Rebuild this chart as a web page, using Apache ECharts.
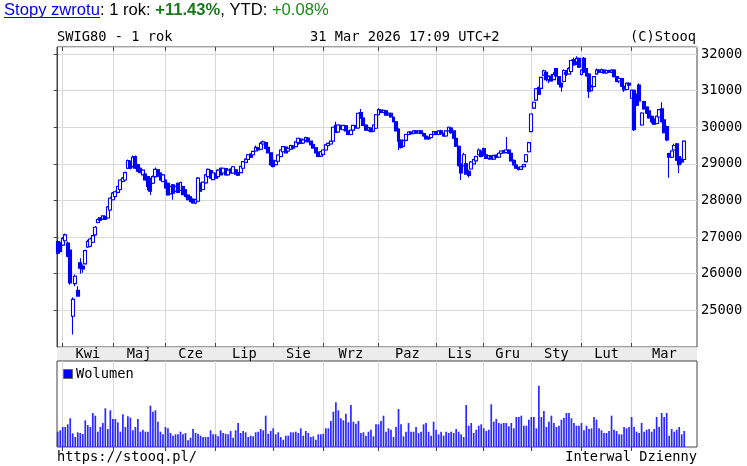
<!DOCTYPE html>
<html><head><meta charset="utf-8">
<script src="https://cdn.jsdelivr.net/npm/echarts@6/dist/echarts.min.js"></script>
<style>html,body{margin:0;padding:0;background:#fff}#c{width:747px;height:466px}</style>
</head><body><div id="c"></div>
<script>
// Daily candles [open, close, low, high], grouped by month
const mar25 = [[26880,26560,26530,26920],[26850,26610,26580,26880]];
const apr25 = [[26780,26960,26760,27000],[26900,27060,26880,27100],[26840,26480,26450,26880],[26650,25750,25700,26680],
[24840,25300,24340,25360],[25730,25930,25660,25980],[25550,25390,25370,25660],[26300,26150,26000,26420],
[26200,26130,26030,26250],[26270,26630,26250,26660],[26730,26880,26700,26930],[26750,26950,26730,26980],
[26860,27040,26840,27060],[27060,27270,27040,27300],[27400,27480,27380,27510],[27530,27460,27440,27550],
[27490,27580,27470,27600],[27560,27490,27470,27580],[27520,27820,27500,27850],[27740,28060,27720,28100]];
const may25 = [[28020,28200,28000,28230],[28110,28240,28080,28270],[28220,28380,28200,28400],[28300,28560,28280,28580],
[28520,28610,28500,28640],[28560,28760,28540,28790],[28880,29090,28860,29120],[29060,28880,28850,29090],
[28930,29180,28900,29230],[29200,28880,28860,29230],[28980,28800,28780,29000],[28880,28760,28740,28900],
[28700,28830,28680,28850],[28720,28560,28540,28740],[28650,28380,28280,28670],[28600,28250,28150,28620],
[28470,28650,28450,28680],[28650,28850,28630,28900],[28840,28660,28640,28860],[28750,28560,28540,28770],
[28520,28700,28500,28720]];
const jun25 = [[28560,28340,28320,28580],[28470,28150,28130,28490],[28180,28380,28160,28400],[28430,28200,28020,28450],
[28250,28380,28230,28400],[28470,28220,28200,28490],[28280,28490,28260,28510],[28380,28160,28140,28400],
[28290,28110,28090,28310],[28150,28020,28000,28170],[28100,27970,27950,28120],[28040,27930,27910,28060],
[27930,28020,27900,28040],[27980,28610,27960,28640],[28470,28250,28230,28490],[28300,28500,28280,28520],
[28480,28700,28460,28720],[28650,28850,28630,28870],[28820,28610,28590,28840],[28570,28750,28550,28770]];
const jul25 = [[28740,28610,28590,28760],[28650,28830,28630,28850],[28880,28700,28680,28900],[28750,28880,28730,28900],
[28870,28700,28680,28890],[28700,28830,28680,28850],[28860,28750,28730,28880],[28750,28920,28730,28940],
[28840,28720,28700,28860],[28760,28690,28670,28790],[28760,28930,28740,28950],[28880,29060,28860,29080],
[29040,29130,29020,29150],[29120,29250,29100,29270],[29270,29180,29160,29290],[29250,29340,29230,29360],
[29350,29450,29330,29500],[29440,29380,29360,29460],[29400,29560,29380,29600],[29540,29600,29480,29640],
[29580,29420,29400,29600],[29450,29300,29280,29470],[29300,28980,28950,29320]];
const aug25 = [[29100,28930,28900,29120],[28980,29080,28960,29100],[29070,29240,29050,29260],[29200,29380,29180,29400],
[29330,29470,29310,29490],[29460,29300,29280,29480],[29350,29420,29330,29440],[29400,29500,29380,29520],
[29490,29430,29410,29510],[29470,29600,29450,29620],[29580,29700,29520,29720],[29680,29560,29540,29700],
[29570,29650,29550,29670],[29640,29720,29600,29740],[29700,29600,29580,29720],[29620,29520,29500,29640],
[29530,29430,29410,29550],[29440,29300,29280,29460],[29320,29200,29180,29340],[29210,29330,29190,29350]];
const sep25 = [[29260,29380,29240,29400],[29380,29520,29360,29540],[29500,29560,29480,29580],[29540,29620,29520,29640],
[29620,30000,29600,30020],[30050,29860,29840,30150],[29870,30060,29850,30080],[30040,29950,29930,30070],
[29930,30050,29910,30070],[30040,29900,29880,30060],[29900,29800,29780,29920],[29800,29920,29780,29940],
[29920,30050,29900,30070],[30040,29980,29960,30060],[29980,30380,29960,30400],[30400,30250,30230,30500],
[30250,30050,30030,30270],[30060,29920,29900,30080],[29920,29990,29880,30010],[29980,29880,29860,30000],
[29890,30060,29870,30080],[29970,30340,29950,30360]];
const oct25 = [[30340,30480,30320,30520],[30470,30400,30380,30500],[30400,30460,30380,30480],[30450,30330,30310,30470],
[30330,30380,30310,30400],[30380,30280,30260,30400],[30270,30150,30130,30290],[30150,29900,29880,30170],
[29950,29620,29380,29970],[29650,29450,29420,29670],[29480,29640,29460,29660],[29640,29800,29620,29820],
[29800,29870,29780,29890],[29870,29820,29800,29890],[29830,29900,29810,29920],[29900,29840,29820,29920],
[29840,29900,29820,29920],[29900,29830,29810,29920],[29830,29760,29740,29850],[29760,29680,29660,29780],
[29690,29720,29650,29750],[29720,29800,29700,29820],[29800,29880,29780,29900]];
const nov25 = [[29880,29800,29780,29900],[29800,29900,29780,29920],[29900,29820,29800,29930],[29820,29760,29740,29850],
[29760,29900,29740,29920],[29900,30000,29880,30020],[29980,29850,29820,30000],[29900,29700,29680,29920],
[29700,29480,29460,29720],[29480,28950,28930,29500],[29000,28750,28560,29050],[28950,29250,28930,29300],
[29000,28720,28700,29020],[28800,28680,28630,28840],[28860,29050,28840,29080],[29000,29120,28980,29140],
[29080,29200,29060,29220],[29250,29380,29230,29420],[29350,29200,29180,29380]];
const dec25 = [[29420,29240,29220,29440],[29250,29150,29130,29270],[29150,29220,29110,29240],[29220,29130,29110,29240],
[29130,29230,29110,29250],[29230,29180,29160,29260],[29180,29290,29160,29310],[29290,29350,29270,29370],
[29350,29300,29280,29380],[29310,29380,29290,29730],[29380,29290,29270,29400],[29290,29080,29060,29300],
[29100,28970,28950,29120],[28970,28880,28860,28990],[28880,28850,28820,28920],[28850,28920,28830,28950],
[28920,28980,28900,29000],[29060,29250,29040,29270],[29330,29580,29310,29600]];
const jan26 = [[29880,30360,29860,30380],[30520,30680,30500,30700],[30740,31050,30720,31070],[31080,30900,30880,31110],
[31060,31360,31040,31380],[31420,31540,31400,31570],[31500,31300,31250,31520],[31300,31380,31200,31420],
[31400,31260,31240,31450],[31300,31440,31280,31500],[31600,31400,31380,31620],[31380,31180,31150,31400],
[31200,31100,30970,31220],[31250,31550,31230,31580],[31500,31450,31400,31560],[31450,31600,31430,31640],
[31520,31820,31500,31850],[31850,31700,31680,31900],[31780,31880,31700,31940],[31880,31640,31620,31900]];
const feb26 = [[31440,31560,31420,31580],[31880,31500,31480,31920],[31600,31400,31380,31620],[31450,30980,30800,31480],
[31000,31100,30980,31150],[31110,31380,31090,31400],[31450,31560,31430,31600],[31560,31500,31470,31590],
[31500,31570,31480,31600],[31560,31480,31460,31580],[31480,31550,31460,31570],[31550,31500,31480,31570],
[31500,31560,31480,31580],[31560,31380,31360,31580],[31380,31250,31230,31400],[31260,31330,31200,31360],
[31330,31120,31100,31350],[31120,31020,30960,31140],[31030,31200,31010,31230],[31200,31150,31080,31230]];
const mar26 = [[30790,31010,30780,31030],[31010,29930,29900,31030],[30900,30600,30580,30920],[31150,30720,30700,31200],
[30060,30390,30040,30410],[30700,30500,30480,30720],[30550,30380,30360,30570],[30450,30250,30230,30470],
[30300,30150,30100,30330],[30220,30080,30060,30240],[30100,30300,30080,30320],[30280,30480,30260,30500],
[30500,30150,30130,30680],[30200,29850,29830,30220],[30020,29650,29620,30040],[29280,29180,28620,29300],
[29180,29350,29160,29370],[29380,29500,29360,29550],[29550,29100,29080,29570],[29200,28980,28750,29220],
[29100,29050,29000,29150],[29120,29620,29100,29640]];

// Daily volume (relative units)
const volume = [15.3,16.7,20,20,22.7,28.7,13.7,10,14.7,14,13,26.7,22,20,34,31.3,15.3,20,24,38.7,
18,36.7,28,28,24.7,15.3,32.7,20,30.7,29.3,16.7,20,28,15.3,17.3,15.3,15.3,41.3,35.3,36.7,
25.3,15.3,12.7,20,18.7,14,11.3,12.7,12.7,15.3,12.7,14,6.7,9.3,18,14,13.3,11.3,10,10,
10,16.7,12.7,12.7,10.7,16.7,14,13.3,12.7,16,9.3,16.7,24,14,16,14.7,10,11.3,10.7,14.7,
15.3,18,16.7,31.3,13.3,16,18.7,12.7,14.7,10,7.3,11.3,11.3,14.7,14.7,15.3,14,18.7,11.3,16,
14,10,10.7,7.3,12.7,12.7,13.3,18.7,18.7,26,35.3,44.7,36.7,28.7,26.7,33.3,24.7,42,25.3,23.3,
26,14,14.7,11.3,15.3,17.3,10.7,22.7,
22.7,26,31.3,15.3,18.7,17.3,10,20,38,22.7,10.7,15.3,24,15.3,15.3,20,14,15.3,22.7,24,
15.3,11.3,25.3,17.3,12.7,15.3,11.3,15.3,14,15.3,14,18,15.3,12.7,10,42,21.3,24,14,17.3,
21.3,22.7,18.7,16,17.3,42.7,25.3,28,24,23.3,24,24,20.7,24,18.7,30,30,31.3,21.3,21.3,
27.3,30,30,18.7,61.3,30,36,20,25.3,31.3,24,20,21.3,27.3,29.3,34,34,28.7,24,21.3,
21.3,24,16.7,21.3,18,18.7,30,27.3,18.7,16.7,14,14,16,31.3,17.3,16,12.7,12.7,20,18.7,
20,30,20,15.3,14,24,15.3,17.3,18,15.3,18,30,20,34,30,34,11.3,18,15.3,17.3,20,12.7,16];

const monthNames = ['Kwi','Maj','Cze','Lip','Sie','Wrz','Paz','Lis','Gru','Sty','Lut','Mar'];

const months = [mar25,apr25,may25,jun25,jul25,aug25,sep25,oct25,nov25,dec25,jan26,feb26,mar26];
const candles = [].concat(...months);
const monthStarts = [];
let acc = 0;
months.forEach((m,k)=>{ if(k>0) monthStarts.push(acc); acc += m.length; });
const X_MIN = -0.28, X_MAX = 255.1;
const labelPos = monthStarts.map((s,k)=> (s + (k+1<monthStarts.length ? monthStarts[k+1] : X_MAX))/2);
const candleData = candles.map((c,i)=>[i,c[0],c[1],c[2],c[3]]);
const volData = volume.map((v,i)=>[i,v]);

const MONO = 'DejaVu Sans Mono';
const FS = 13.7;
const GRIDC = '#d9d9d9';
const FRAME = '#444';
const BLUE = '#0000ff';

function monthLabel(v){
  for (let k=0;k<labelPos.length;k++) if (Math.abs(labelPos[k]-v)<0.01) return monthNames[k];
  return '';
}
function txt(text,x,y,align,extra){
  return Object.assign({type:'text',z:100,style:{text:text,x:x,y:y,fill:'#000',
    font:FS+'px "'+MONO+'"',align:align||'left',textAlign:align||'left',
    verticalAlign:'middle',textVerticalAlign:'middle'}},extra||{});
}

const chart = echarts.init(document.getElementById('c'),null,{renderer:'canvas'});
chart.setOption({
  animation:false,
  backgroundColor:'#fff',
  grid:[
    {left:57,top:47,width:640,height:300,show:true,borderColor:FRAME,borderWidth:1,backgroundColor:'transparent'},
    {left:57,top:361,width:640,height:86,show:true,borderColor:FRAME,borderWidth:1,backgroundColor:'transparent'}
  ],
  xAxis:[
    {gridIndex:0,type:'value',position:'bottom',min:X_MIN,max:X_MAX,
     axisLine:{show:false},
     axisTick:{show:true,inside:true,length:4,customValues:monthStarts,lineStyle:{color:FRAME}},
     axisLabel:{show:true,customValues:labelPos,formatter:monthLabel,fontFamily:MONO,fontSize:FS,color:'#000',margin:7,verticalAlign:'middle'},
     splitLine:{show:true,lineStyle:{color:GRIDC,width:1}}},
    {gridIndex:0,type:'value',position:'top',min:X_MIN,max:X_MAX,
     axisLine:{show:false},
     axisTick:{show:true,inside:true,length:4,customValues:monthStarts,lineStyle:{color:FRAME}},
     axisLabel:{show:false},splitLine:{show:false}},
    {gridIndex:1,type:'value',position:'top',min:X_MIN,max:X_MAX,
     axisLine:{show:false},
     axisTick:{show:true,inside:true,length:4,customValues:monthStarts,lineStyle:{color:FRAME}},
     axisLabel:{show:false},
     splitLine:{show:true,lineStyle:{color:GRIDC,width:1}}}
  ],
  yAxis:[
    {gridIndex:0,type:'value',position:'right',min:24000,max:32190,interval:1000,
     axisLine:{show:true,lineStyle:{color:FRAME}},
     axisTick:{show:true,inside:true,length:4,lineStyle:{color:FRAME}},
     axisLabel:{fontFamily:MONO,fontSize:FS,color:'#000',margin:4,showMinLabel:false,showMaxLabel:false,
       formatter:function(v){return String(Math.round(v));}},
     splitLine:{show:true,lineStyle:{color:GRIDC,width:1}}},
    {gridIndex:1,type:'value',min:0,max:86,show:false}
  ],
  series:[
    {type:'candlestick',xAxisIndex:0,yAxisIndex:0,data:candleData,encode:{x:0,y:[1,2,3,4]},
     barWidth:3.4,z:5,
     itemStyle:{color:'#ffffff',color0:BLUE,borderColor:BLUE,borderColor0:BLUE,borderColorDoji:BLUE,borderWidth:1.1}},
    {type:'bar',xAxisIndex:2,yAxisIndex:1,data:volData,barWidth:1.7,
     itemStyle:{color:'#2a2aff'}}
  ],
  graphic:[
    {type:'rect',z:-10,shape:{x:57,y:347,width:640,height:14},style:{fill:'#ececec'}},
    {type:'text',z:100,style:{x:4,y:10,verticalAlign:'middle',textVerticalAlign:'middle',
      text:'{a|Stopy zwrotu}{b|: 1 rok: }{c|+11.43%}{b|, YTD: }{d|+0.08%}',
      font:'16.6px "Liberation Sans"',
      rich:{
        a:{fill:'#0000ee',color:'#0000ee',fontSize:16.6,fontFamily:'Liberation Sans'},
        b:{fill:'#000',color:'#000',fontSize:16.6,fontFamily:'Liberation Sans'},
        c:{fill:'#1a7a1a',color:'#1a7a1a',fontSize:16.6,fontFamily:'Liberation Sans',fontWeight:'bold'},
        d:{fill:'#1a8a1a',color:'#1a8a1a',fontSize:16.6,fontFamily:'Liberation Sans'}
      }}},
    {type:'line',z:100,shape:{x1:4,y1:17.5,x2:100,y2:17.5},style:{stroke:'#0000ee',lineWidth:1}},
    txt('SWIG80 - 1 rok',57,37),
    txt('31 Mar 2026 17:09 UTC+2',310,37),
    txt('(C)Stooq',696,37,'right'),
    {type:'rect',z:100,shape:{x:63.5,y:369.5,width:9,height:9},style:{fill:BLUE,stroke:'#666',lineWidth:1}},
    txt('Wolumen',76,374),
    txt('https://stooq.pl/',57,457),
    txt('Interwal Dzienny',697,457,'right')
  ]
});
</script></body></html>
